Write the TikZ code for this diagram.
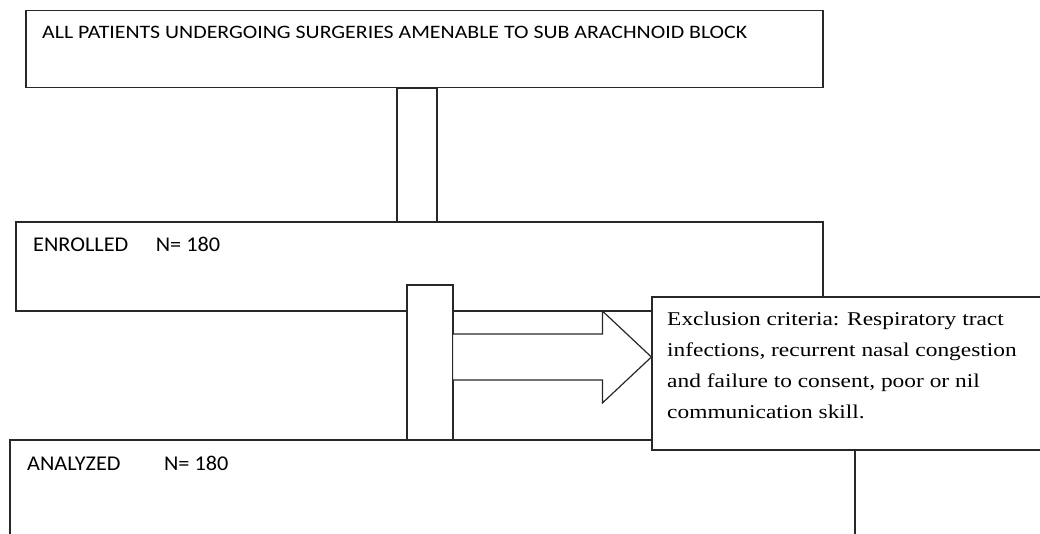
\documentclass[tikz,border=0pt]{standalone}
\usepackage{fontspec}
\setmainfont{Carlito}
\newfontfamily\topfont[FakeStretch=1.15]{Carlito}
\newfontfamily\boxfont[FakeStretch=1.06]{Carlito}
\newfontfamily\exclfont[FakeStretch=1.2]{Liberation Serif}
\usepackage{tikz}
\usetikzlibrary{calc}
\definecolor{edge}{RGB}{40,40,40}

\begin{document}
\begin{tikzpicture}[x=1pt, y=-1pt,
  flowbox/.style={rectangle, draw=edge, fill=white, line width=1.2pt, inner sep=0pt},
  link/.style={rectangle, draw=edge, fill=white, line width=1.2pt, inner sep=0pt},
  blockarr/.style={draw=edge, fill=white, line width=1.2pt, line join=miter},
  boxtext/.style={anchor=base west, inner sep=0pt, font=\boxfont\fontsize{21}{25}\selectfont}]
  \useasboundingbox (0,0) rectangle (1040,533);
  \clip (0,0) rectangle (1040,533);
  % boxes of the flow
  \node[flowbox, minimum width=797pt, minimum height=77pt] (allpts) at (424.5,49) {};
  \node[flowbox, minimum width=807pt, minimum height=89pt] (enrol) at (419.5,266.5) {};
  \node[flowbox, minimum width=845pt, minimum height=120pt] (anlz) at (432.5,500) {};
  \node[boxtext, font=\topfont\fontsize{19}{22}\selectfont] (allptsT) at (42,38)
    {ALL PATIENTS UNDERGOING SURGERIES AMENABLE TO SUB ARACHNOID BLOCK};
  \node[boxtext] (enrolT) at (33,251) {ENROLLED\hspace{27.5pt}N= 180};
  \node[boxtext] (anlzT) at (27,470) {ANALYZED\hspace{43.5pt}N= 180};
  % links between boxes
  \node[link, minimum width=40pt, minimum height=134pt] (link1) at (417,155) {};
  \node[link, minimum width=46pt, minimum height=155pt] (link2) at (430,362.5) {};
  % exclusion
  \node[flowbox, minimum width=393pt, minimum height=153pt] (excl) at (848.5,373.5) {};
  \node[anchor=base west, inner sep=0pt, align=left,
        font=\exclfont\fontsize{19.5}{30.8}\selectfont] (exclT) at (667,418)
    {Exclusion criteria: Respiratory tract\\
     infections, recurrent nasal congestion\\
     and failure to consent, poor or nil\\
     communication skill.};
  \coordinate (tail) at (link2.east |- 0,357);
  \coordinate (tip) at (excl.west |- tail);
  \draw[blockarr] ($(tail)+(-1,-23)$) -- ($(tip)+(-49,-23)$) -- ($(tip)+(-49,-46)$)
    -- (tip) -- ($(tip)+(-49,46)$) -- ($(tip)+(-49,23)$) -- ($(tail)+(-1,23)$) -- cycle;
\end{tikzpicture}
\end{document}
